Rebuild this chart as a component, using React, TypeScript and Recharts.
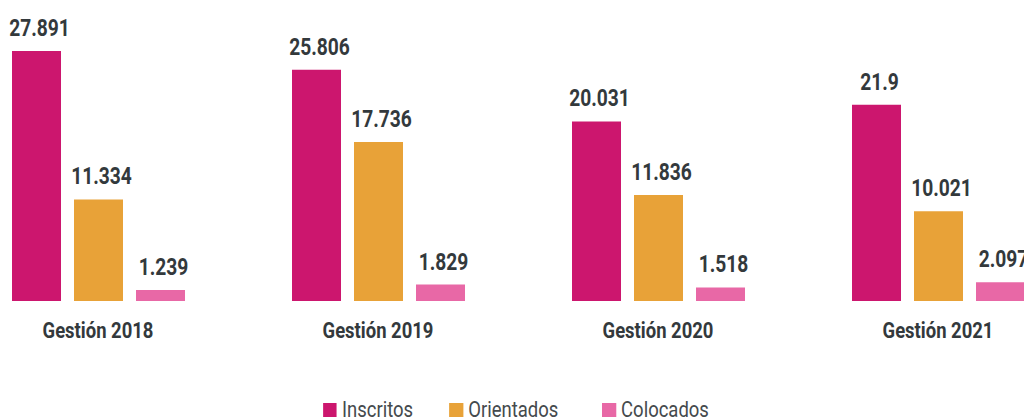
import { BarChart, Bar, XAxis, YAxis, Legend, LabelList } from 'recharts';

const categories = ['Gestión 2018', 'Gestión 2019', 'Gestión 2020', 'Gestión 2021'];
const inscritos = [27891, 25806, 20031, 21900];
const orientados = [11334, 17736, 11836, 10021];
const colocados = [1239, 1829, 1518, 2097];
// labels as printed on the chart
const inscritosLabels = ['27.891', '25.806', '20.031', '21.9'];
const orientadosLabels = ['11.334', '17.736', '11.836', '10.021'];
const colocadosLabels = ['1.239', '1.829', '1.518', '2.097'];

const series = [
  { key: 'inscritos', label: 'inscritosLabel', name: 'Inscritos', color: '#cc166e', gap: 43 },
  { key: 'orientados', label: 'orientadosLabel', name: 'Orientados', color: '#e8a238', gap: 52 },
  { key: 'colocados', label: 'colocadosLabel', name: 'Colocados', color: '#e868a6', gap: 0 },
];

const data = categories.map((name, i) => ({
  name,
  inscritos: inscritos[i],
  orientados: orientados[i],
  colocados: colocados[i],
  inscritosLabel: inscritosLabels[i],
  orientadosLabel: orientadosLabels[i],
  colocadosLabel: colocadosLabels[i],
}));

const FONT = 'Roboto, sans-serif';
const TEXT = '#33393c';
// no condensed face installed, so squeeze Roboto horizontally
const SQUEEZE = 0.8;

const ValueLabel = (props: any) => {
  const { x, y, width, value } = props;
  return (
    <text
      transform={`translate(${x + width / 2 + 3},${y - 15}) scale(${SQUEEZE},1)`}
      textAnchor="middle"
      fontFamily={FONT}
      fontWeight={700}
      fontSize={24}
      fill={TEXT}
    >
      {value}
    </text>
  );
};

const CategoryTick = (props: any) => {
  const { x, y, payload } = props;
  return (
    <text
      transform={`translate(${x},${y + 37}) scale(0.84,1)`}
      textAnchor="middle"
      fontFamily={FONT}
      fontWeight={700}
      fontSize={22}
      fill={TEXT}
    >
      {payload.value}
    </text>
  );
};

const LegendContent = () => (
  <div
    style={{
      display: 'flex',
      justifyContent: 'center',
      alignItems: 'center',
      paddingRight: 5,
      fontFamily: FONT,
      fontSize: 22,
      lineHeight: '24px',
      color: '#454a4d',
      transform: 'scaleX(0.84)',
      transformOrigin: 'center',
    }}
  >
    {series.map((s) => (
      <div key={s.key} style={{ display: 'flex', alignItems: 'center', marginRight: s.gap }}>
        <span style={{ width: 16.7, height: 14, background: s.color, marginRight: 6, display: 'inline-block' }} />
        <span>{s.name}</span>
      </div>
    ))}
  </div>
);

export default function App() {
  return (
    <div style={{ width: 1024, height: 420, overflow: 'hidden' }}>
      <div style={{ marginLeft: -50 }}>
        <BarChart
          width={1120}
          height={420}
          data={data}
          margin={{ top: 42, right: 0, left: 0, bottom: 87 }}
          barSize={49}
          barGap={13}
        >
          <XAxis
            dataKey="name"
            height={40}
            axisLine={false}
            tickLine={false}
            tickSize={0}
            tickMargin={0}
            tick={<CategoryTick />}
            interval={0}
          />
          <YAxis hide domain={[0, 28000]} />
          <Legend
            verticalAlign="middle"
            align="center"
            layout="horizontal"
            wrapperStyle={{ top: 390, left: 0, width: 1120 }}
            content={<LegendContent />}
          />
          {series.map((s) => (
            <Bar key={s.key} dataKey={s.key} name={s.name} fill={s.color} isAnimationActive={false}>
              <LabelList dataKey={s.label} content={<ValueLabel />} />
            </Bar>
          ))}
        </BarChart>
      </div>
    </div>
  );
}
